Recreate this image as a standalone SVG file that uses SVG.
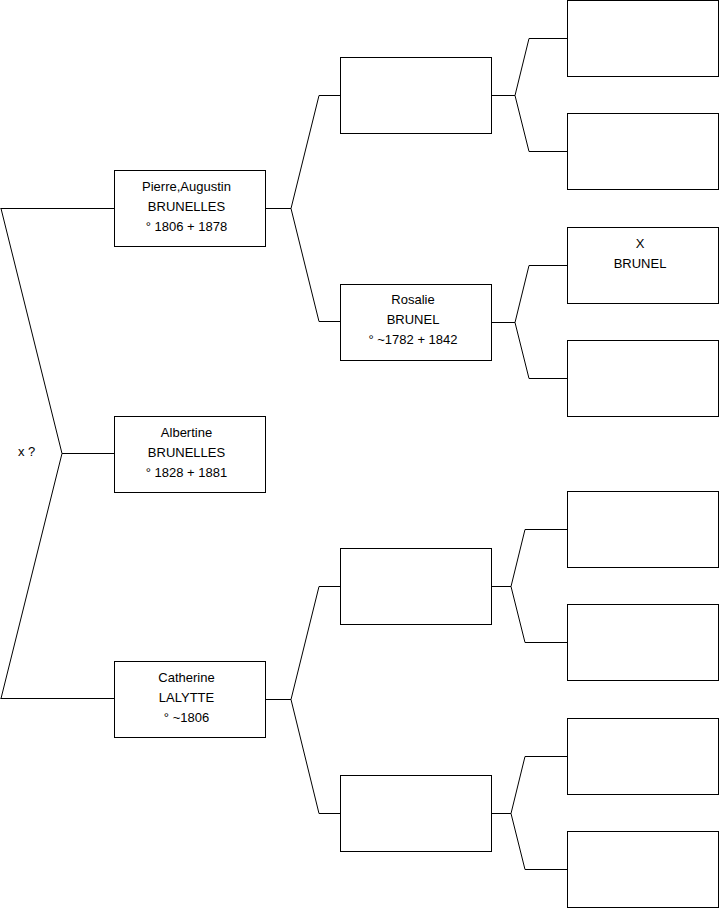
<svg xmlns="http://www.w3.org/2000/svg" width="719" height="908" viewBox="0 0 719 908">
<style>
rect{fill:#fff;stroke:#000;stroke-width:1}
.c path{fill:none;stroke:#000;stroke-width:1}
text{font-family:"Liberation Sans",Arial,sans-serif;font-size:13px;fill:#000;text-anchor:middle}
</style>
<rect x="0" y="0" width="719" height="908" style="stroke:none"/>
<g class="c" id="connectors">
<path d="M0.5,208.5H114 M0.5,698.5H114 M62,453.5H114 M1,208.5L62,453.5L1,698.5"/>
<path d="M265,208.5H291 M291,208.5L319,95.5H340 M291,208.5L319,321.5H340"/>
<path d="M265,699.5H291 M291,699.5L319,586.5H340 M291,699.5L319,813.5H340"/>
<path d="M491,95.5H515 M515,95.5L529,38.5H567 M515,95.5L529,151.5H567"/>
<path d="M491,322.5H515 M515,322.5L529,265.5H567 M515,322.5L529,378.5H567"/>
<path d="M491,586.5H511 M511,586.5L525,529.5H567 M511,586.5L525,642.5H567"/>
<path d="M491,813.5H511 M511,813.5L525,756.5H567 M511,813.5L525,869.5H567"/>
</g>
<g id="n-pierre"><rect x="114.5" y="170.5" width="151" height="76"/><text x="186.5" y="191">Pierre,Augustin</text><text x="186.5" y="211">BRUNELLES</text><text x="186.5" y="231">° 1806 + 1878</text></g>
<g id="n-albertine"><rect x="114.5" y="416.5" width="151" height="76"/><text x="186.5" y="437">Albertine</text><text x="186.5" y="457">BRUNELLES</text><text x="186.5" y="477">° 1828 + 1881</text></g>
<g id="n-catherine"><rect x="114.5" y="661.5" width="151" height="76"/><text x="186.5" y="682">Catherine</text><text x="186.5" y="702">LALYTTE</text><text x="186.5" y="722">° ~1806</text></g>
<text x="18" y="456" style="text-anchor:start">x ?</text>
<g id="n-g2a"><rect x="340.5" y="57.5" width="151" height="76"/></g>
<g id="n-rosalie"><rect x="340.5" y="284.5" width="151" height="76"/><text x="413" y="304">Rosalie</text><text x="413" y="324">BRUNEL</text><text x="413" y="344">° ~1782 + 1842</text></g>
<g id="n-g2c"><rect x="340.5" y="548.5" width="151" height="76"/></g>
<g id="n-g2d"><rect x="340.5" y="775.5" width="151" height="76"/></g>
<g id="n-g3a"><rect x="567.5" y="0.5" width="151" height="76"/></g>
<g id="n-g3b"><rect x="567.5" y="113.5" width="151" height="76"/></g>
<g id="n-xbrunel"><rect x="567.5" y="227.5" width="151" height="76"/><text x="640" y="248">X</text><text x="640" y="268">BRUNEL</text></g>
<g id="n-g3d"><rect x="567.5" y="340.5" width="151" height="76"/></g>
<g id="n-g3e"><rect x="567.5" y="491.5" width="151" height="76"/></g>
<g id="n-g3f"><rect x="567.5" y="604.5" width="151" height="76"/></g>
<g id="n-g3g"><rect x="567.5" y="718.5" width="151" height="76"/></g>
<g id="n-g3h"><rect x="567.5" y="831.5" width="151" height="76"/></g>
</svg>
